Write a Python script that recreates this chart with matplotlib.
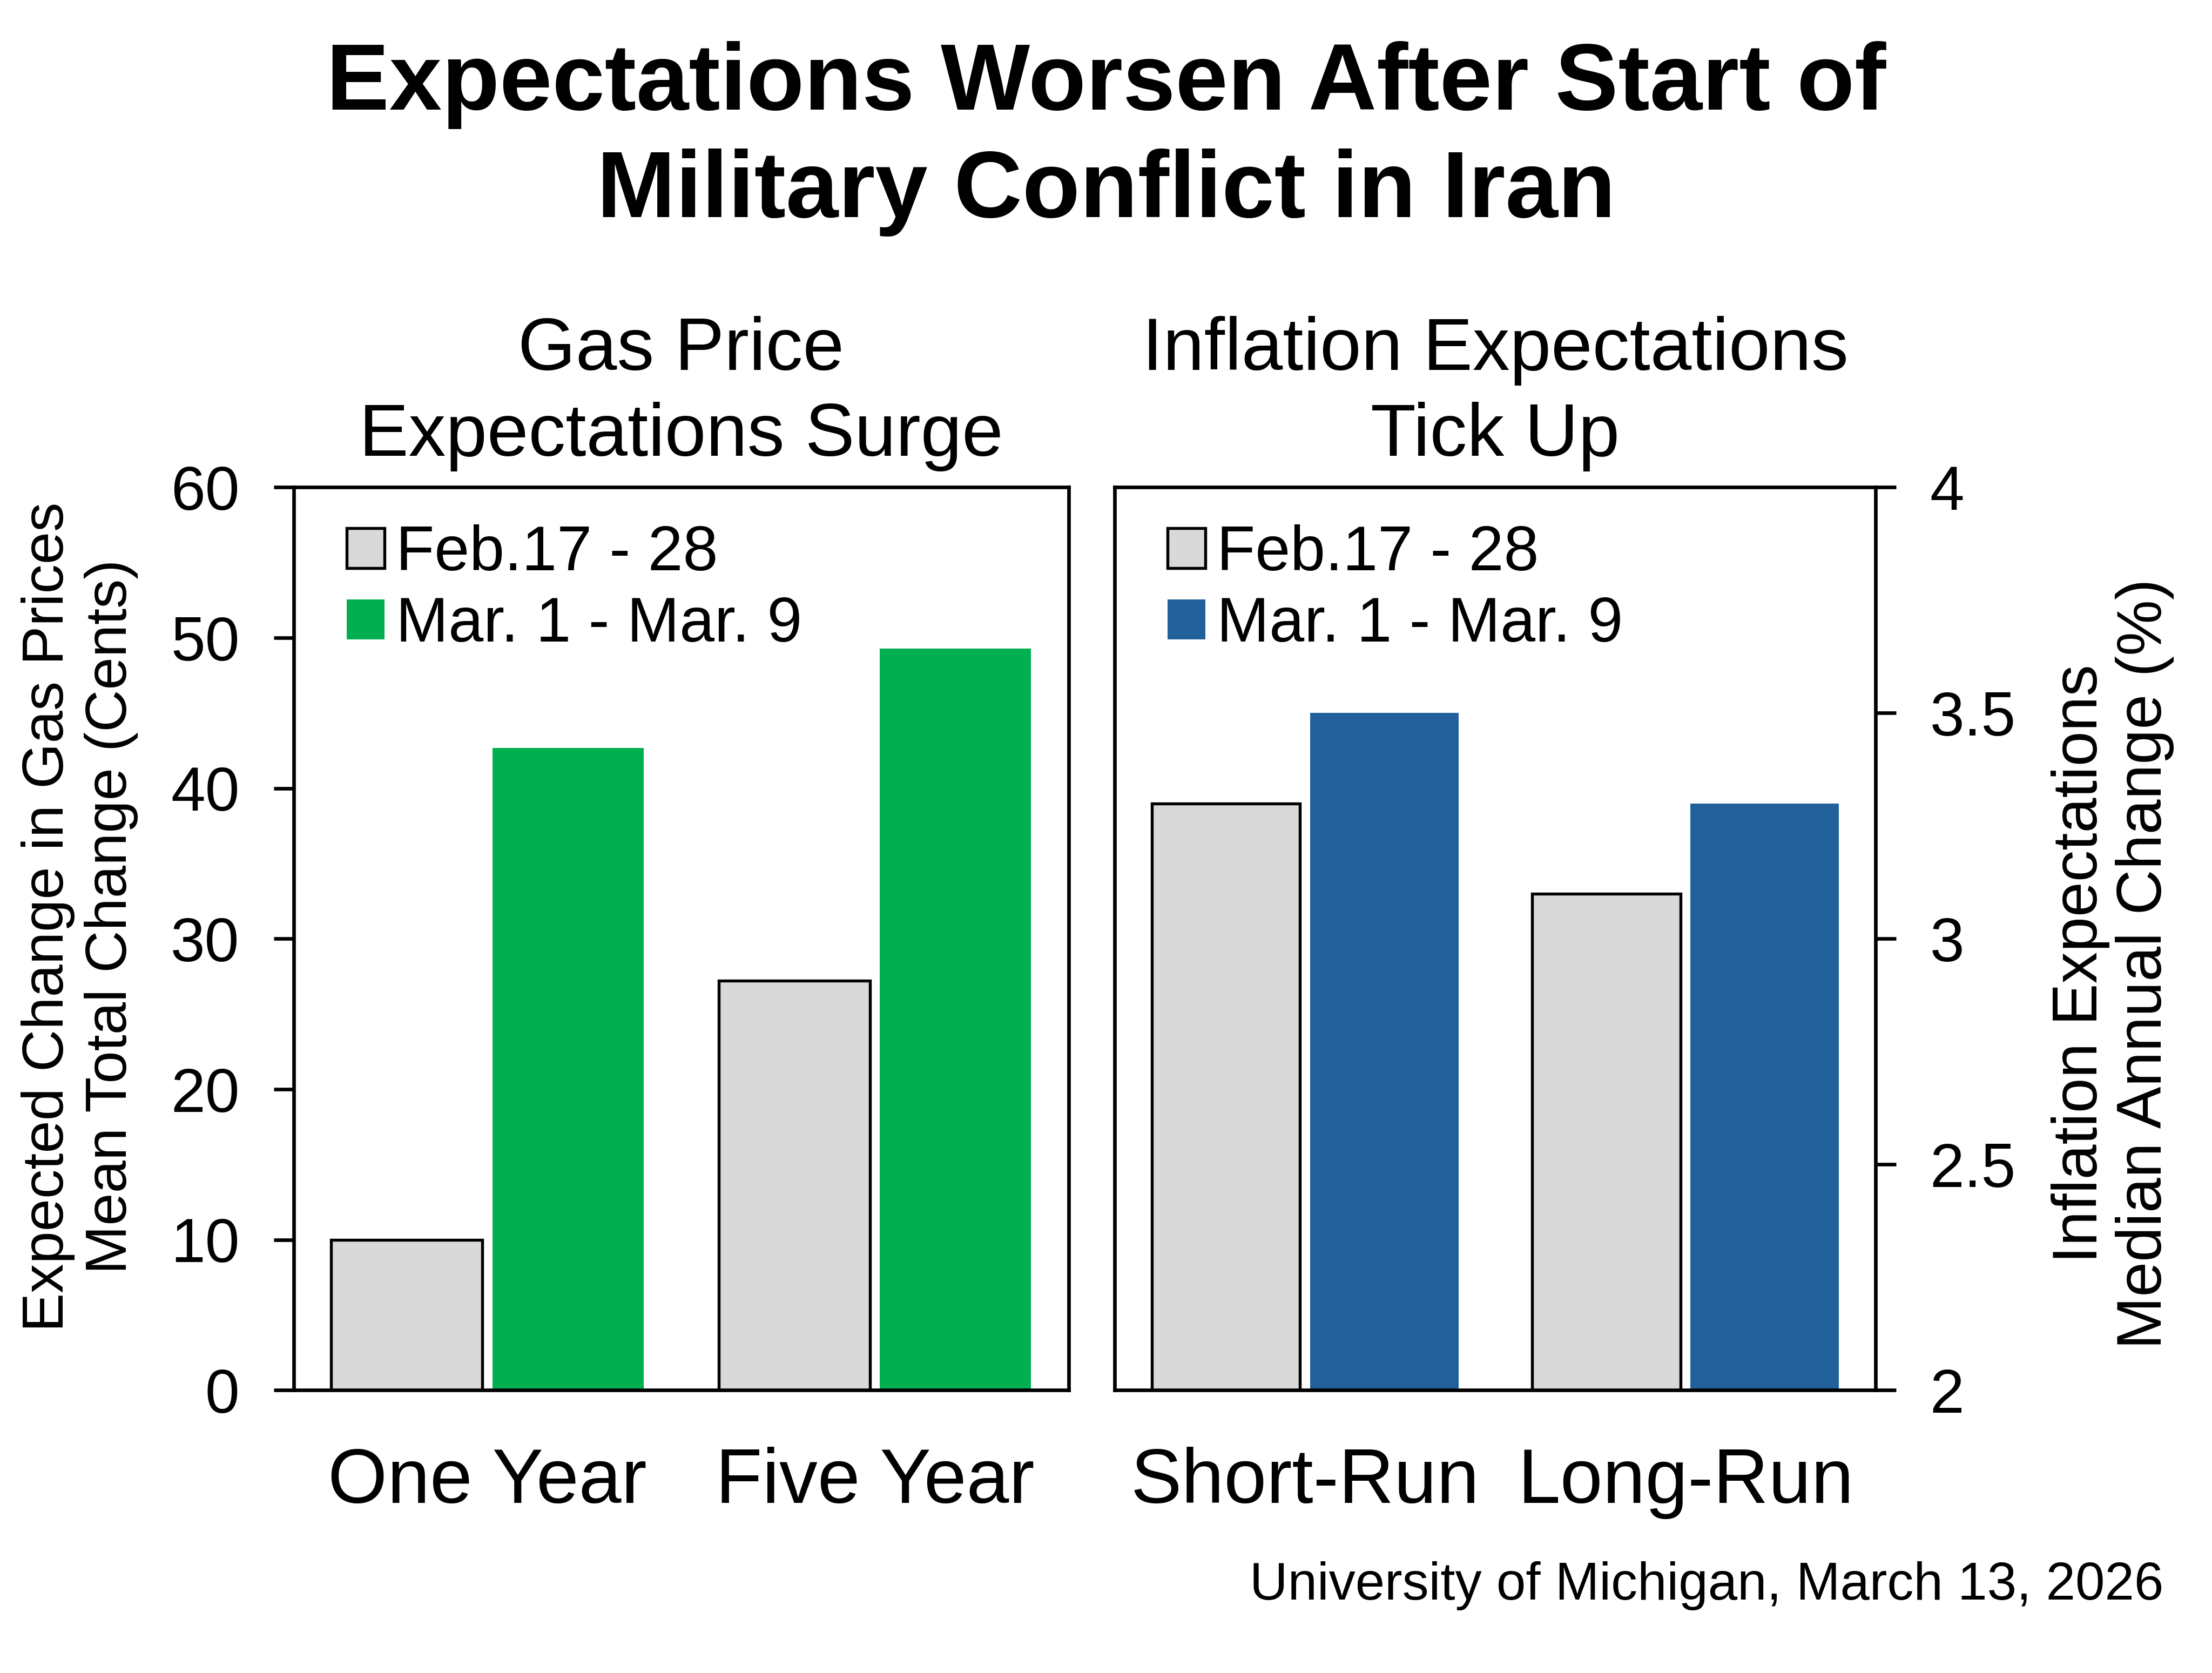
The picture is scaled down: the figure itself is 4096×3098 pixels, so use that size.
import matplotlib.pyplot as plt
from matplotlib.patches import Patch
import numpy as np

plt.rcParams['font.family'] = ['Liberation Sans', 'DejaVu Sans']

# --- data ---
gas_cats = ["One Year", "Five Year"]
gas_feb = [10.0, 27.2]
gas_mar = [42.7, 49.3]

infl_cats = ["Short-Run", "Long-Run"]
infl_feb = [3.3, 3.1]
infl_mar = [3.5, 3.3]

legend_labels = ["Feb.17 - 28", "Mar. 1 - Mar. 9"]

GREY = "#D9D9D9"
GREEN = "#00B050"
BLUE = "#22609B"

fig = plt.figure(figsize=(4096 / 300, 3098 / 300), dpi=300)
ax1 = fig.add_axes([0.1327, 0.169, 0.3504, 0.5397])
ax2 = fig.add_axes([0.504, 0.169, 0.344, 0.5397])

w = 0.39
off = 0.208


def draw(ax, cats, feb, mar, color):
    x = np.arange(len(cats))
    ax.bar(x - off, feb, w, color=GREY, edgecolor="black", linewidth=1.3, zorder=2)
    ax.bar(x + off, mar, w, color=color, linewidth=0, zorder=2)
    ax.set_xlim(-0.5, len(cats) - 0.5)
    ax.set_xticks(x)
    ax.set_xticklabels(cats, fontsize=34)
    ax.tick_params(axis="x", length=0, pad=25)
    for s in ax.spines.values():
        s.set_linewidth(1.6)
    handles = [Patch(facecolor=GREY, edgecolor="black", linewidth=1.3),
               Patch(facecolor=color, edgecolor=color, linewidth=0)]
    ax.legend(handles, legend_labels, loc="upper left", frameon=False, fontsize=28,
              handlelength=0.6, handleheight=0.6, handletextpad=0.18,
              labelspacing=0.2, borderaxespad=0.0, bbox_to_anchor=(0.036, 0.987))


draw(ax1, gas_cats, gas_feb, gas_mar, GREEN)
ax1.set_ylim(0, 60)
ax1.set_yticks(range(0, 61, 10))
ax1.tick_params(axis="y", direction="out", length=9, width=1.6, labelsize=27.5, pad=15)
ax1.set_title("Gas Price\nExpectations Surge", fontsize=33, pad=14, linespacing=1.3)

draw(ax2, infl_cats, infl_feb, infl_mar, BLUE)
ax2.set_ylim(2, 4)
ax2.set_yticks([2, 2.5, 3, 3.5, 4])
ax2.set_yticklabels(["2", "2.5", "3", "3.5", "4"])
ax2.yaxis.tick_right()
ax2.tick_params(axis="y", direction="out", length=9, width=1.6, labelsize=27.5, pad=15)
ax2.set_title("Inflation Expectations\nTick Up", fontsize=33, pad=14, linespacing=1.3)

# axis titles
fig.text(0.036, 0.452, "Expected Change in Gas Prices\nMean Total Change (Cents)",
         rotation=90, ha="center", va="center", fontsize=26, linespacing=1.22)
fig.text(0.955, 0.424, "Inflation Expectations\nMedian Annual Change (%)",
         rotation=90, ha="center", va="center", fontsize=28, linespacing=1.12)

fig.text(0.5, 0.917, "Expectations Worsen After Start of\nMilitary Conflict in Iran",
         fontsize=42, fontweight="bold", ha="center", va="center", linespacing=1.28)

fig.text(0.978, 0.044, "University of Michigan, March 13, 2026", ha="right",
         va="baseline", fontsize=23.5)

fig.savefig("out.png", dpi=300)
